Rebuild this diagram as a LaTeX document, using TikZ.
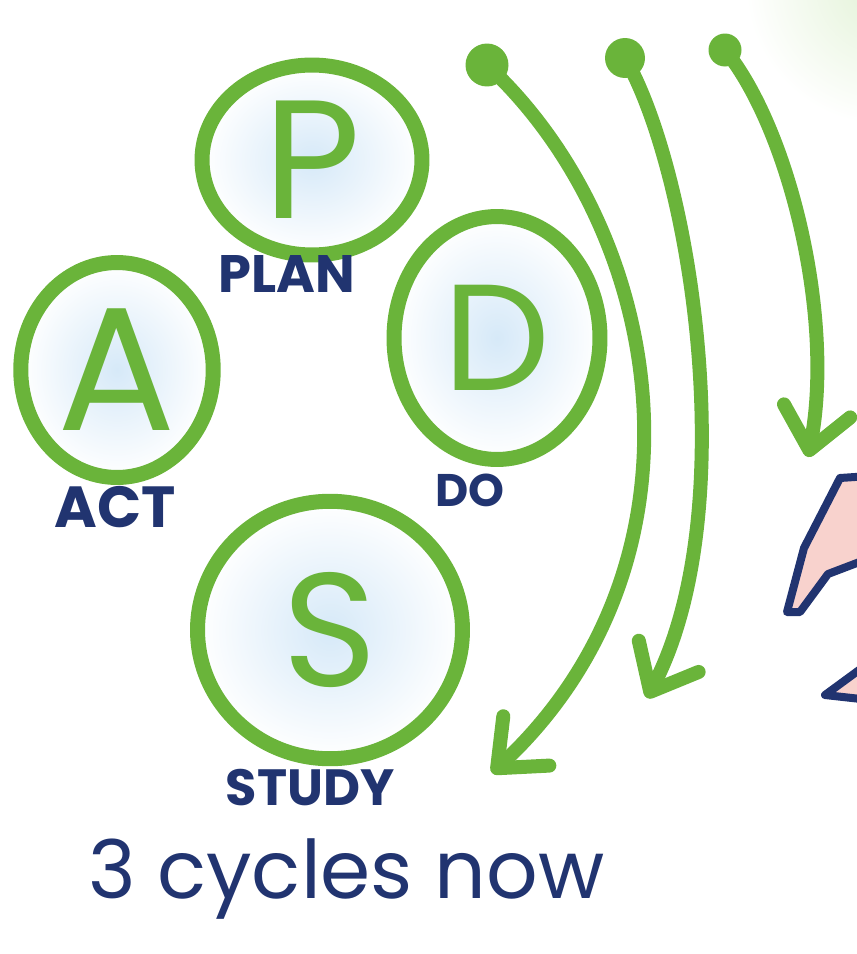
\documentclass[tikz,border=0pt]{standalone}
\usepackage{fontspec}
\setmainfont{Poppins}
\usetikzlibrary{arrows.meta,shapes.geometric,positioning}

\definecolor{pdsagreen}{RGB}{106,180,58}
\definecolor{pdsanavy}{RGB}{33,52,112}
\definecolor{pdsasky}{RGB}{214,233,248}
\definecolor{pdsapink}{RGB}{248,210,205}
\definecolor{pdsahaze}{RGB}{226,242,214}

\tikzset{phase/.style={ellipse, draw=pdsagreen, line width=0.3cm,
		inner color=pdsasky, outer color=white, text=pdsagreen, inner sep=0pt},
	stage/.style={text=pdsanavy, font=\fontsize{30}{30}\selectfont\bfseries},
	cycle/.style={draw=pdsagreen, line width=0.28cm, line cap=round, line join=round,
		-{Straight Barb[length=0.8cm,width=1.35cm,round]}},
	cyclestart/.style={circle, fill=pdsagreen, inner sep=0pt}}

\begin{document}
\begin{tikzpicture}[x=0.02cm, y=-0.02cm]
	\useasboundingbox (0,0) rectangle (857,954);
	\shade[inner color=pdsahaze, outer color=white] (885,-15) circle (140);
	
	% the four steps
	\node[phase, minimum width=4.4cm, minimum height=3.8cm, font=\fontsize{96}{96}\selectfont] (plan) at (312,160) {P};
	\node[phase, minimum width=3.85cm, minimum height=4.3cm, font=\fontsize{100}{100}\selectfont] (act) at (117,370) {A};
	\node[phase, minimum width=4.12cm, minimum height=4.86cm, font=\fontsize{86}{86}\selectfont] (do) at (497,338) {D};
	\node[phase, minimum width=5.3cm, minimum height=5.15cm, font=\fontsize{92}{92}\selectfont] (study) at (330,630) {S};
	
	\node[stage] (planlabel) at (287,274) {PLAN};
	\node[stage, font=\fontsize{33}{33}\selectfont\bfseries] (actlabel) at (115,507) {ACT};
	\node[stage, font=\fontsize{26}{26}\selectfont\bfseries] (dolabel) at (470,490) {DO};
	\node[stage, font=\fontsize{29}{29}\selectfont\bfseries] (studylabel) at (310,788) {STUDY};
	
	\node[text=pdsanavy, font=\fontsize{46}{46}\selectfont, anchor=base west] (caption) at (82,898) {3 cycles now};
	
	% three arrows running down the side
	\node[cyclestart, minimum size=0.86cm] (startone) at (487,65) {};
	\node[cyclestart, minimum size=0.8cm] (starttwo) at (625,58) {};
	\node[cyclestart, minimum size=0.66cm] (startthree) at (725,50) {};
	\coordinate (endone) at (492,773);
	\coordinate (endtwo) at (647,698);
	\coordinate (endthree) at (808,457);
	
	\draw[cycle] (startone.center) .. controls (665,230) and (720,560) .. (endone);
	\draw[cycle] (starttwo.center) .. controls (690,170) and (745,510) .. (endtwo);
	\draw[cycle] (startthree.center) .. controls (790,130) and (835,320) .. (endthree);
	
	% pieces of the next picture
	\draw[draw=pdsanavy, fill=pdsapink, line width=0.16cm, line join=round]
		(870,476) -- (840,478) -- (804,548) -- (787,612) -- (800,612) -- (828,574) -- (870,558);
	\draw[draw=pdsanavy, fill=pdsapink, line width=0.16cm, line join=round]
		(870,662) -- (825,695) -- (870,700);
\end{tikzpicture}
\end{document}
